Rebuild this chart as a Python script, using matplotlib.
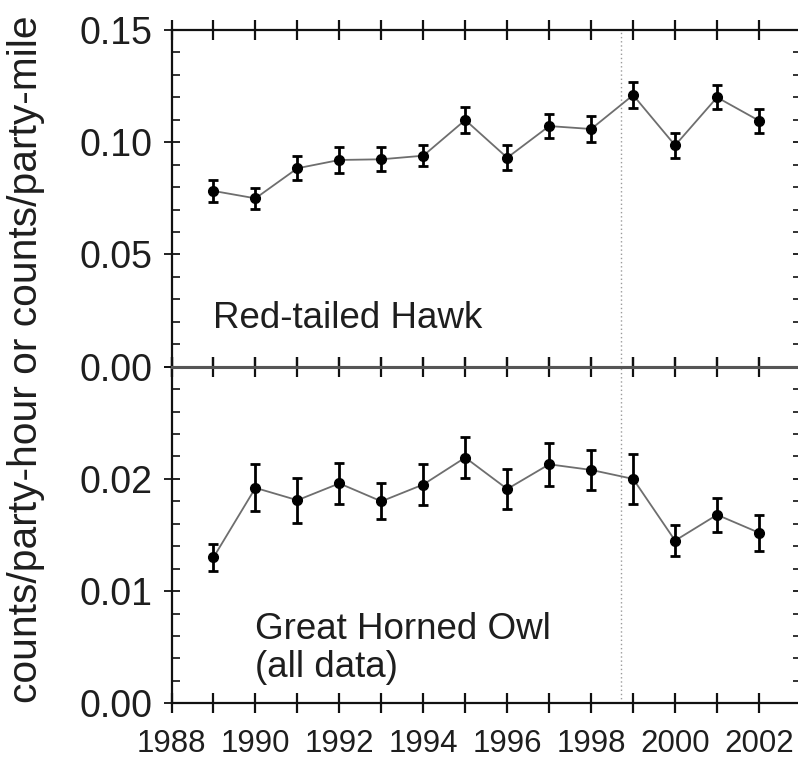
import matplotlib
matplotlib.use("Agg")
import matplotlib.pyplot as plt
from matplotlib.ticker import MultipleLocator, FormatStrFormatter, FixedLocator, FuncFormatter

plt.rcParams['font.family'] = ['Liberation Sans', 'DejaVu Sans']

years = [1989, 1990, 1991, 1992, 1993, 1994, 1995, 1996, 1997, 1998, 1999, 2000, 2001, 2002]

hawk_rate = [0.0783, 0.0750, 0.0884, 0.0921, 0.0924, 0.0940, 0.1099, 0.0931,
             0.1072, 0.1059, 0.1210, 0.0986, 0.1200, 0.1096]
hawk_err = [0.0049, 0.0048, 0.0053, 0.0059, 0.0054, 0.0047, 0.0059, 0.0056,
            0.0053, 0.0057, 0.0059, 0.0056, 0.0054, 0.0054]

owl_rate = [0.0130, 0.0192, 0.0181, 0.0196, 0.0180, 0.0195, 0.0219, 0.0191,
            0.0213, 0.0208, 0.0200, 0.0145, 0.0168, 0.0152]
owl_err = [0.0012, 0.0021, 0.0020, 0.0018, 0.0016, 0.0018, 0.0018, 0.0018,
           0.0019, 0.0018, 0.0022, 0.0014, 0.0015, 0.0016]

year_labels = ['1988', '1990', '1992', '1994', '1996', '1998', '2000', '2002']
method_change = 1998.72

TEXT = '#1e1e1e'

fig = plt.figure(figsize=(7.98, 7.61), dpi=100)
left, right = 171.5 / 798, 801.0 / 798
top, mid, bot = 1 - 30 / 761, 1 - 366.7 / 761, 1 - 703.3 / 761
ax1 = fig.add_axes([left, mid, right - left, top - mid])
ax2 = fig.add_axes([left, bot, right - left, mid - bot], sharex=ax1)


def draw_panel(ax, rate, err):
    ax.axvline(method_change, color='#9a9a9a', linestyle=(0, (1, 2)), lw=1.0, zorder=1)
    ax.plot(years, rate, color='#6e6e6e', lw=1.3, zorder=2)
    ax.errorbar(years, rate, yerr=err, fmt='o', color='black', ms=7,
                elinewidth=2.0, capsize=3.5, capthick=2.0, zorder=3)
    for s in ax.spines.values():
        s.set_linewidth(1.6)
        s.set_color('#111111')
    ax.tick_params(axis='both', which='both', color='#111111', labelcolor=TEXT)
    ax.tick_params(axis='y', which='major', direction='inout', length=12, width=1.3,
                   left=True, right=True, labelsize=27, pad=8)
    ax.tick_params(axis='y', which='minor', direction='in', length=6, width=1.2,
                   left=True, right=True)
    ax.tick_params(axis='x', which='major', direction='in', length=7, width=1.6,
                   top=True, bottom=True)


draw_panel(ax1, hawk_rate, hawk_err)
draw_panel(ax2, owl_rate, owl_err)

ax1.set_xlim(1988, 2003)
ax1.xaxis.set_major_locator(MultipleLocator(1))
ax2.xaxis.set_major_formatter(
    FuncFormatter(lambda v, p: str(int(round(v))) if str(int(round(v))) in year_labels else ''))
ax1.tick_params(axis='x', labelbottom=False)
ax2.tick_params(axis='x', which='major', direction='inout', length=15, labelsize=22.5, pad=11)
ax2.tick_params(axis='x', top=True)
ax1.tick_params(axis='x', bottom=True, direction='inout', length=14)

ax1.set_ylim(0, 0.15)
ax1.yaxis.set_major_locator(FixedLocator([0.0, 0.05, 0.10, 0.15]))
ax1.yaxis.set_minor_locator(MultipleLocator(0.01))
ax1.yaxis.set_major_formatter(FormatStrFormatter('%.2f'))

ax2.set_ylim(0, 0.03)
ax2.yaxis.set_major_locator(FixedLocator([0.0, 0.01, 0.02, 0.03]))
ax2.yaxis.set_minor_locator(MultipleLocator(0.002))
ax2.yaxis.set_major_formatter(FuncFormatter(lambda v, p: '' if v > 0.025 else f'{v:.2f}'))
ax2.tick_params(axis='y', labelright=False)
ax1.tick_params(axis='y', labelright=False)

ax1.spines['bottom'].set_color('#555555')
ax2.spines['top'].set_color('#555555')
ax1.spines['bottom'].set_linewidth(2.2)
ax2.spines['top'].set_linewidth(2.2)

ax1.text(1988.98, 0.0171, 'Red-tailed Hawk', fontsize=26.5, color=TEXT, va='baseline', ha='left')
ax2.text(1990.0, 0.00235, 'Great Horned Owl\n(all data)', fontsize=26.5, color=TEXT,
         va='baseline', ha='left', linespacing=1.1)

fig.text(0.032, 0.528, 'counts/party-hour or counts/party-mile', rotation=90,
         fontsize=29.3, color=TEXT, ha='center', va='center')

fig.savefig('out.png', dpi=100)
